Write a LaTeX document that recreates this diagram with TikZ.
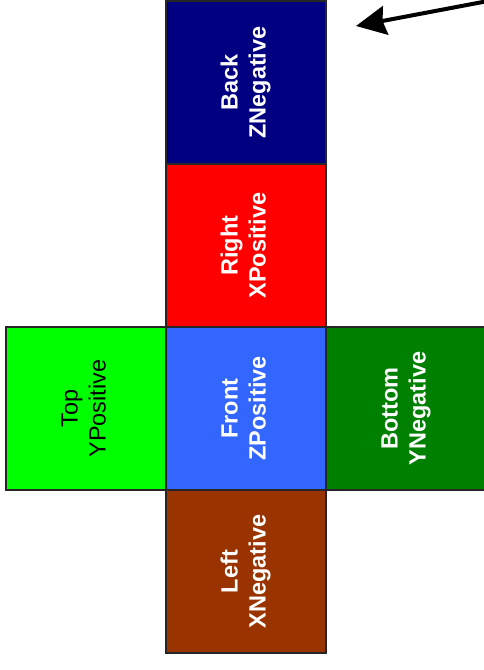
\documentclass[tikz,border=0pt]{standalone}
\usepackage{fontspec}
\setsansfont{Liberation Sans}
\usepackage{graphicx}
\usetikzlibrary{positioning,arrows.meta}

\definecolor{backblue}{RGB}{0,0,128}
\definecolor{rightred}{RGB}{255,0,0}
\definecolor{frontblue}{RGB}{51,102,255}
\definecolor{leftbrown}{RGB}{153,51,0}
\definecolor{topgreen}{RGB}{0,255,0}
\definecolor{bottomgreen}{RGB}{0,128,0}

\newcommand{\facelabel}[2]{\rotatebox{90}{\begin{tabular}{@{}c@{}}#1\\#2\end{tabular}}}

\begin{document}
\begin{tikzpicture}[
    x=1pt, y=1pt,
    node distance=0pt,
    face/.style={draw=black!85, line width=1.3pt, minimum width=160pt, minimum height=163pt, outer sep=0pt, inner sep=0pt, font=\sffamily\bfseries\fontsize{23.5}{28}\selectfont, text=white},
    arr/.style={-{Stealth[length=30pt,width=29pt,inset=3pt]}, line width=4pt}
]
\useasboundingbox (0,0) rectangle (484,-670);

\node[face, fill=frontblue] (front) at (246,-408.5) {\facelabel{Front}{ZPositive}};
\node[face, fill=rightred, above=of front] (right) {\facelabel{Right}{XPositive}};
\node[face, fill=backblue, above=of right] (back) {\facelabel{Back}{ZNegative}};
\node[face, fill=leftbrown, below=of front] (left) {\facelabel{Left}{XNegative}};
\node[face, fill=topgreen, text=black, font=\sffamily\fontsize{23.5}{28}\selectfont, left=of front] (top) {\facelabel{Top}{YPositive}};
\node[face, fill=bottomgreen, right=of front] (bottom) {\facelabel{Bottom}{YNegative}};

% pointer to the back face
\coordinate (tail) at (488,-1);
\coordinate (tip) at (356,-26);
\draw[arr] (tail) -- (tip);
\end{tikzpicture}
\end{document}
